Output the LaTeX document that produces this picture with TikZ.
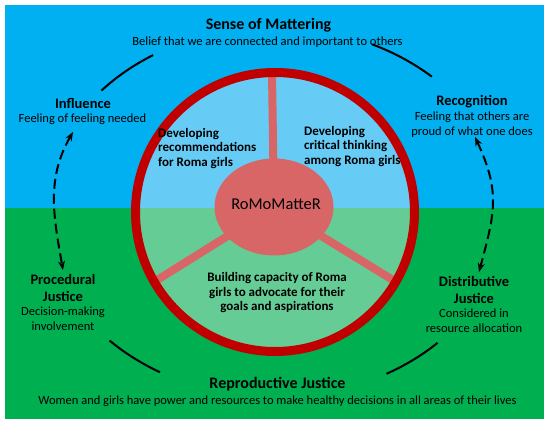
\documentclass[tikz,border=0pt]{standalone}
\usepackage{fontspec}
\setmainfont{Carlito}
\usetikzlibrary{arrows.meta,positioning,calc,shapes.geometric}

\definecolor{skyblue}{HTML}{00B0F0}
\definecolor{grassgreen}{HTML}{00B050}
\definecolor{innerblue}{HTML}{66CCF5}
\definecolor{innergreen}{HTML}{66CC95}
\definecolor{ringred}{HTML}{C00000}
\definecolor{salmon}{HTML}{D96666}

\tikzset{
  bighead/.style={inner sep=0pt, font=\fontsize{16}{18}\selectfont\bfseries},
  head/.style={inner sep=0pt, align=center, font=\fontsize{14.5}{17}\selectfont\bfseries},
  desc/.style={inner sep=0pt, align=center, font=\fontsize{12.5}{15}\selectfont},
  inner/.style={inner sep=0pt, font=\fontsize{13}{14.5}\selectfont\bfseries},
  arcline/.style={line width=2pt, black},
  linkarrow/.style={{Stealth[length=9pt,width=7pt,inset=3pt]}-{Stealth[length=9pt,width=7pt,inset=3pt]}, line width=2pt, dash pattern=on 10pt off 5pt},
  spoke/.style={salmon, line width=8pt}
}

\begin{document}
\begin{tikzpicture}[>=Latex, x=1pt, y=1pt]
  \useasboundingbox (0,0) rectangle (550,425);

  % Background
  \fill[skyblue] (5,217) rectangle (544,420);
  \fill[grassgreen] (5,6) rectangle (544,217);

  % Wheel
  \coordinate (ctr) at (275,213);
  \begin{scope}
    \clip (ctr) circle (140);
    \fill[innerblue] (120,217) rectangle (430,360);
    \fill[innergreen] (120,217) rectangle (430,60);
  \end{scope}
  \coordinate (hub) at (274,218);
  \draw[spoke] (hub) -- (272,352);
  \draw[spoke] (hub) -- ($(ctr)+(210:137)$);
  \draw[spoke] (hub) -- ($(ctr)+(330:137)$);
  \node[ellipse, fill=salmon, minimum width=119, minimum height=97, inner sep=0pt] (hubnode) at (hub) {};
  \draw[ringred, line width=9pt] (ctr) circle (139.5);
  \node[inner sep=0pt, font=\fontsize{16.5}{18}\selectfont] (romo) at (276,221) {RoMoMatteR};

  % Inner texts
  \node[inner, anchor=west, align=left] (recs) at (158,276.5) {Developing\\recommendations\\for Roma girls};
  \node[inner, anchor=west, align=left] (crit) at (304,278.5) {Developing\\critical thinking\\among Roma girls};
  \node[inner, align=center] (capa) at (277,132) {Building capacity of Roma\\girls to advocate for their\\goals and aspirations};

  % Outer ring of arcs
  \draw[arcline] (ctr) ++(122:230 and 185) arc[start angle=122, end angle=139, x radius=230, y radius=185];
  \draw[arcline] (ctr) ++(47:230 and 185) arc[start angle=47, end angle=65, x radius=230, y radius=185];
  \draw[arcline] (ctr) ++(224:230 and 185) arc[start angle=224, end angle=240, x radius=230, y radius=185];
  \draw[arcline] (ctr) ++(299:230 and 185) arc[start angle=299, end angle=315, x radius=230, y radius=185];

  % Labels
  \node[bighead] (sense) at (268.5,400) {Sense of Mattering};
  \node[desc] (sensetxt) at (267.5,383) {Belief that we are connected and important to others};
  \node[head] (infl) at (83,321) {Influence};
  \node[desc] (infltxt) at (82.5,306) {Feeling of feeling needed};
  \node[head] (recog) at (472,323) {Recognition};
  \node[desc] (recogtxt) at (472,300.5) {Feeling that others are\\proud of what one does};
  \node[head] (proc) at (63,137) {Procedural\\Justice};
  \node[desc] (proctxt) at (63,106) {Decision-making\\involvement};
  \node[head] (distr) at (474,135) {Distributive\\Justice};
  \node[desc] (distrtxt) at (474,104.5) {Considered in\\resource allocation};
  \node[bighead] (repro) at (277.5,41) {Reproductive Justice};
  \node[desc] (reprotxt) at (277.5,24) {Women and girls have power and resources to make healthy decisions in all areas of their lives};

  % Dashed links
  \coordinate (infltip) at (73,293);
  \coordinate (proctip) at (63,155);
  \coordinate (recogtip) at (475,288);
  \coordinate (distrtip) at (479,153);
  \draw[linkarrow] (infltip) to[out=240, in=100] (proctip);
  \draw[linkarrow] (recogtip) to[out=295, in=75, looseness=1.15] (distrtip);
\end{tikzpicture}
\end{document}
